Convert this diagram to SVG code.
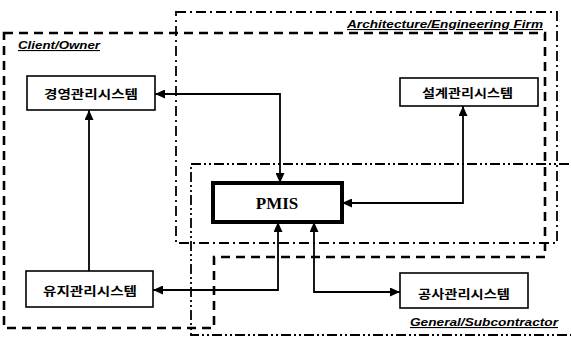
<svg xmlns="http://www.w3.org/2000/svg" width="571" height="338" viewBox="0 0 571 338">
<style>
.region{fill:none;stroke:#000;}
.dash{stroke-width:2.6;stroke-dasharray:9 6;}
.dashdot{stroke-width:1.8;stroke-dasharray:10 4 2 4;}
.dashdotdot{stroke-width:1.8;stroke-dasharray:10 3 2 3 2 3;}
.lbl{font-family:"Liberation Sans",Arial,sans-serif;font-size:11px;font-weight:bold;font-style:italic;text-decoration:underline;fill:#000;}
.box{fill:#fff;stroke:#000;stroke-width:1.6;}
.pmis{fill:#fff;stroke:#000;stroke-width:4;}
.kt{font-family:"Noto Sans CJK KR",sans-serif;font-size:12px;font-weight:bold;fill:#000;dominant-baseline:central;}
.pt{font-family:"Liberation Serif","Times New Roman",serif;font-size:17px;font-weight:bold;fill:#000;text-anchor:middle;dominant-baseline:central;}
.conn{fill:none;stroke:#000;stroke-width:1.8;}
</style>
<defs>
<marker id="ah" markerUnits="userSpaceOnUse" markerWidth="11" markerHeight="9" refX="10" refY="4.5" orient="auto-start-reverse">
<path d="M0,0 L10,4.5 L0,9 z" fill="#000"/>
</marker>
</defs>
<g id="regions">
<polygon class="region dash" points="4,33 545,33 545,257 214,257 214,328 4,328"/>
<rect class="region dashdot" x="176" y="12" width="381" height="231"/>
<rect class="region dashdotdot" x="191" y="164" width="390" height="171"/>
<text class="lbl" x="18" y="49" textLength="82" lengthAdjust="spacingAndGlyphs">Client/Owner</text>
<text class="lbl" x="347" y="28" textLength="196" lengthAdjust="spacingAndGlyphs">Architecture/Engineering Firm</text>
<text class="lbl" x="410" y="326" textLength="148" lengthAdjust="spacingAndGlyphs">General/Subcontractor</text>
</g>
<g id="connectors">
<polyline class="conn" points="155,94 280,94 280,183" marker-start="url(#ah)" marker-end="url(#ah)"/>
<polyline class="conn" points="89,271 89,110" marker-end="url(#ah)"/>
<polyline class="conn" points="463,106 463,203 342,203" marker-start="url(#ah)" marker-end="url(#ah)"/>
<polyline class="conn" points="278,222 278,290 153,290" marker-start="url(#ah)" marker-end="url(#ah)"/>
<polyline class="conn" points="314,222 314,292 400,292" marker-start="url(#ah)" marker-end="url(#ah)"/>
</g>
<g id="node-gyeongyeong">
<rect class="box" x="27" y="76" width="128" height="34"/>
<text class="kt" x="44" y="93" textLength="94" lengthAdjust="spacingAndGlyphs">경영관리시스템</text>
</g>
<g id="node-seolgye">
<rect class="box" x="400" y="78" width="138" height="28"/>
<text class="kt" x="422" y="92" textLength="91" lengthAdjust="spacingAndGlyphs">설계관리시스템</text>
</g>
<g id="node-pmis">
<rect class="pmis" x="213" y="183" width="129" height="39"/>
<text class="pt" x="277" y="203">PMIS</text>
</g>
<g id="node-yuji">
<rect class="box" x="26" y="271" width="127" height="36"/>
<text class="kt" x="43" y="290" textLength="94" lengthAdjust="spacingAndGlyphs">유지관리시스템</text>
</g>
<g id="node-gongsa">
<rect class="box" x="400" y="273" width="128" height="35"/>
<text class="kt" x="418" y="293" textLength="92" lengthAdjust="spacingAndGlyphs">공사관리시스템</text>
</g>
</svg>
